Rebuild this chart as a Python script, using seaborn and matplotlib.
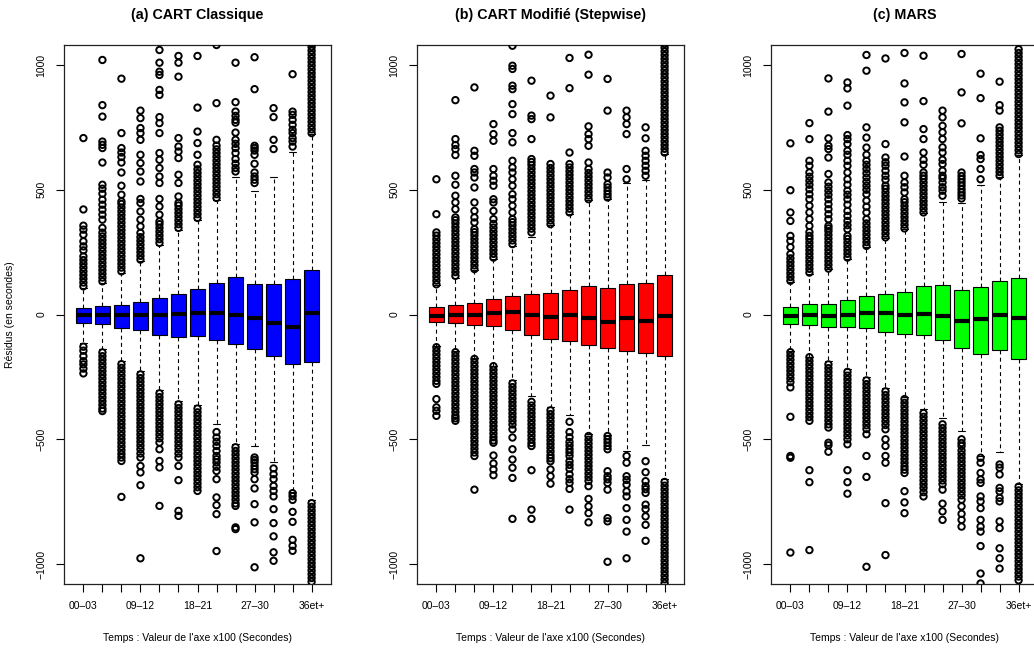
import pandas as pd
import numpy as np
import seaborn as sns
import matplotlib
matplotlib.use('Agg')
import matplotlib.pyplot as plt

# --- Categories (time bins, x100 seconds) ---
categories = ["00–03", "03–06", "06–09", "09–12", "12–15", "15–18", "18–21",
              "21–24", "24–27", "27–30", "30–33", "33–36", "36et+"]
yticks = [-1000, -500, 0, 500, 1000]
ytick_labels = ["−1000", "−500", "0", "500", "1000"]

# --- (a) CART Classique : box statistics ---
q1_a = [-33, -39, -53, -63, -84, -92, -87, -101, -117, -139, -165, -200, -189]
med_a = [-3, -2, -4, -3, -2, 2, 5, 6, -2, -14, -34, -51, 6]
q3_a = [27, 33, 40, 52, 65, 83, 103, 127, 152, 124, 123, 144, 180]
wlo_a = [-116, -140, -187, -227, -303, -347, -364, -437, -520, -527, -591, -711, -743]
whi_a = [107, 127, 167, 213, 280, 340, 380, 460, 553, 493, 553, 653, 724]
up_a = [
    [113, 128, 143, 158, 173, 188, 203, 218, 233, 257, 273, 293, 320, 340, 356, 421, 707],
    [133, 148, 163, 178, 193, 208, 223, 238, 253, 268, 283, 298, 313, 328, 347, 380, 400, 420,
     440, 460, 484, 504, 520, 609, 667, 680, 693, 793, 839, 1020],
    [173, 188, 203, 218, 233, 248, 263, 278, 293, 308, 323, 338, 353, 368, 383, 398, 413, 428,
     443, 453, 480, 516, 569, 609, 631, 649, 667, 727, 945],
    [220, 235, 250, 265, 280, 295, 310, 327, 353, 380, 413, 447, 463, 533, 573, 607, 640, 700,
     727, 747, 787, 817],
    [287, 302, 317, 332, 347, 362, 373, 400, 433, 463, 527, 553, 587, 620, 647, 727, 767, 791,
     880, 900, 960, 973, 1009, 1060],
    [347, 362, 377, 392, 407, 422, 437, 447, 473, 527, 560, 627, 653, 673, 707, 953, 1009, 1036],
    [387, 402, 417, 432, 447, 462, 477, 492, 507, 522, 537, 552, 567, 582, 600, 640, 687, 733,
     829, 1036],
    [467, 482, 497, 512, 527, 542, 557, 572, 587, 602, 617, 632, 647, 662, 677, 700, 847, 1080],
    [573, 587, 604, 623, 647, 667, 684, 700, 729, 769, 780, 796, 813, 851, 1009],
    [527, 540, 553, 569, 604, 640, 657, 667, 676, 903, 1031],
    [663, 700, 791, 827],
    [673, 693, 707, 727, 740, 760, 780, 800, 813, 963],
    [727, 742, 757, 772, 787, 802, 817, 832, 847, 862, 877, 892, 907, 922, 937, 952, 967, 982,
     997, 1012, 1027, 1042, 1057, 1072, 1087],
]
lo_a = [
    [-129, -145, -167, -187, -200, -217, -236],
    [-152, -167, -182, -197, -212, -227, -242, -257, -272, -287, -302, -317, -332, -347, -362,
     -377, -387],
    [-199, -214, -229, -244, -259, -274, -289, -304, -319, -334, -349, -364, -379, -394, -409,
     -424, -439, -454, -469, -484, -499, -514, -529, -544, -559, -573, -587, -731],
    [-240, -255, -270, -285, -300, -315, -330, -345, -360, -375, -390, -405, -420, -435, -450,
     -465, -480, -495, -510, -525, -540, -557, -573, -607, -633, -684, -977],
    [-316, -331, -346, -361, -376, -391, -406, -421, -436, -451, -466, -481, -496, -513, -540,
     -587, -613, -767],
    [-360, -375, -390, -405, -420, -435, -450, -465, -480, -495, -510, -525, -540, -557, -573,
     -607, -664, -787, -807],
    [-377, -392, -407, -422, -437, -452, -467, -482, -497, -512, -527, -542, -557, -572, -587,
     -602, -617, -632, -647, -662, -677, -692, -707],
    [-471, -493, -510, -527, -547, -567, -580, -593, -610, -627, -660, -733, -764, -800, -948],
    [-532, -547, -562, -577, -592, -607, -622, -637, -652, -667, -682, -697, -712, -727, -742,
     -757, -767, -853, -860],
    [-573, -583, -593, -607, -620, -633, -660, -697, -760, -833, -1013],
    [-617, -640, -660, -687, -707, -729, -780, -836, -889, -953, -987],
    [-716, -728, -743, -791, -831, -903, -927, -947],
    [-756, -771, -786, -801, -816, -831, -846, -861, -876, -891, -906, -921, -936, -951, -966,
     -981, -996, -1011, -1026, -1041, -1056, -1071],
]

# --- (b) CART Modifie (Stepwise) ---
q1_b = [-32, -36, -43, -47, -62, -81, -100, -106, -122, -133, -147, -155, -168]
med_b = [-7, -1, 0, 5, 9, 0, -9, -4, -15, -31, -16, -28, -5]
q3_b = [30, 38, 46, 61, 74, 81, 87, 100, 115, 105, 123, 128, 159]
wlo_b = [-127, -148, -174, -207, -264, -325, -372, -403, -480, -484, -547, -523, -659]
whi_b = [117, 147, 179, 222, 275, 309, 358, 402, 458, 462, 526, 537, 643]
up_b = [
    [121, 136, 151, 166, 181, 196, 211, 226, 241, 256, 271, 286, 301, 316, 329, 402, 542],
    [155, 170, 185, 200, 215, 230, 245, 260, 275, 290, 305, 320, 335, 350, 365, 378, 389, 422,
     449, 476, 520, 556, 639, 663, 679, 703, 859],
    [182, 197, 212, 227, 242, 257, 272, 287, 302, 317, 330, 342, 369, 389, 415, 449, 509, 549,
     569, 583, 636, 656, 910],
    [228, 243, 258, 273, 288, 303, 318, 333, 348, 363, 382, 415, 449, 462, 516, 536, 556, 583,
     696, 723, 763],
    [282, 297, 312, 327, 342, 357, 370, 382, 409, 436, 462, 482, 516, 542, 569, 589, 616, 690,
     727, 803, 843, 903, 917, 984, 997, 1077],
    [329, 344, 359, 374, 389, 404, 419, 434, 449, 464, 479, 494, 509, 524, 539, 554, 569, 584,
     599, 611, 623, 703, 783, 797, 937],
    [362, 377, 392, 407, 422, 437, 452, 467, 482, 497, 512, 527, 542, 557, 572, 587, 603, 790, 877],
    [409, 424, 439, 454, 469, 484, 499, 514, 529, 544, 559, 574, 589, 603, 649, 907, 1028],
    [462, 477, 492, 507, 522, 537, 552, 567, 583, 609, 676, 703, 723, 754, 961, 1041],
    [469, 482, 495, 509, 522, 549, 569, 817, 944],
    [542, 583, 723, 763, 790, 817],
    [556, 576, 596, 616, 636, 656, 706, 750],
    [649, 664, 679, 694, 709, 724, 739, 754, 769, 784, 799, 814, 829, 844, 859, 874, 889, 904,
     919, 934, 949, 964, 979, 994, 1009, 1024, 1039, 1054, 1069, 1084],
]
lo_b = [
    [-131, -146, -161, -176, -191, -206, -221, -236, -251, -266, -278, -339, -372, -386, -406],
    [-151, -166, -181, -196, -211, -226, -241, -256, -271, -286, -301, -316, -331, -346, -361,
     -376, -391, -406, -416, -426],
    [-178, -193, -208, -223, -238, -253, -268, -283, -298, -313, -328, -343, -358, -373, -388,
     -403, -418, -433, -448, -463, -478, -493, -508, -523, -538, -553, -567, -702],
    [-207, -222, -237, -252, -267, -282, -297, -312, -327, -342, -357, -372, -387, -402, -417,
     -432, -447, -462, -477, -492, -505, -514, -565, -597, -621, -644],
    [-276, -291, -306, -321, -336, -351, -366, -381, -396, -411, -426, -441, -460, -493, -540,
     -581, -614, -655, -819],
    [-350, -365, -380, -395, -410, -425, -440, -455, -470, -485, -500, -515, -527, -624, -782, -819],
    [-384, -399, -414, -429, -444, -459, -474, -489, -504, -519, -534, -549, -564, -576, -588,
     -621, -648, -678],
    [-430, -471, -492, -511, -525, -540, -553, -567, -588, -603, -618, -641, -660, -675, -699, -782],
    [-487, -502, -517, -532, -547, -562, -577, -592, -607, -622, -637, -652, -667, -688, -739,
     -769, -796, -833],
    [-487, -500, -513, -527, -540, -628, -648, -660, -675, -702, -816, -829, -991],
    [-567, -594, -648, -663, -682, -709, -729, -776, -823, -870, -977],
    [-588, -632, -668, -688, -700, -715, -762, -780, -809, -843, -907],
    [-671, -686, -701, -716, -731, -746, -761, -776, -791, -806, -821, -836, -851, -866, -881,
     -896, -911, -926, -941, -956, -971, -986, -1001, -1016, -1031, -1046, -1061, -1076],
]

# --- (c) MARS ---
q1_c = [-39, -42, -50, -51, -54, -70, -78, -84, -104, -136, -160, -144, -180]
med_c = [-8, -4, -5, -1, 7, 7, -1, 3, -7, -25, -20, -4, -13]
q3_c = [32, 42, 42, 60, 76, 81, 91, 113, 117, 97, 111, 135, 147]
wlo_c = [-148, -171, -188, -218, -252, -296, -329, -379, -414, -465, -567, -551, -678]
whi_c = [131, 164, 182, 222, 272, 306, 342, 406, 449, 445, 520, 553, 639]
up_c = [
    [135, 150, 165, 180, 195, 210, 225, 242, 270, 295, 315, 375, 409, 498, 686],
    [168, 183, 198, 213, 228, 243, 258, 273, 288, 303, 315, 330, 355, 382, 409, 436, 462, 482,
     502, 520, 536, 552, 569, 596, 616, 703, 767],
    [184, 199, 214, 229, 244, 259, 274, 289, 304, 319, 334, 345, 355, 382, 402, 422, 442, 462,
     480, 496, 512, 529, 563, 629, 663, 676, 706, 813, 946],
    [228, 243, 258, 273, 288, 303, 315, 342, 358, 375, 395, 415, 440, 462, 480, 496, 520, 542,
     569, 596, 616, 640, 656, 683, 703, 719, 837, 906, 930],
    [275, 290, 305, 320, 335, 350, 365, 382, 409, 432, 456, 482, 500, 516, 532, 549, 566, 583,
     600, 616, 640, 669, 709, 750, 977, 1040],
    [309, 324, 339, 354, 369, 384, 399, 414, 429, 444, 459, 474, 489, 504, 516, 540, 556, 576,
     596, 610, 629, 683, 1026],
    [345, 360, 375, 390, 405, 420, 435, 450, 462, 489, 510, 529, 556, 633, 770, 850, 926, 1048],
    [409, 424, 439, 454, 469, 484, 499, 514, 529, 544, 556, 569, 600, 620, 649, 703, 743, 855, 1037],
    [476, 496, 510, 529, 546, 556, 576, 603, 620, 649, 670, 703, 730, 756, 790, 817],
    [465, 477, 489, 502, 516, 529, 542, 555, 569, 766, 890, 1044],
    [542, 583, 623, 639, 706, 867, 965],
    [556, 571, 586, 601, 616, 631, 646, 661, 676, 691, 706, 721, 736, 750, 817, 839, 933],
    [643, 658, 673, 688, 703, 718, 733, 748, 763, 778, 793, 808, 823, 838, 853, 868, 883, 898,
     913, 928, 943, 958, 973, 988, 1003, 1018, 1033, 1048, 1063],
]
lo_c = [
    [-151, -166, -181, -196, -211, -226, -241, -256, -271, -292, -410, -567, -574, -954],
    [-171, -186, -201, -216, -231, -246, -261, -276, -291, -306, -321, -336, -351, -366, -381,
     -396, -411, -426, -624, -672, -944],
    [-200, -215, -230, -245, -260, -275, -290, -305, -320, -335, -350, -365, -380, -395, -410,
     -425, -440, -453, -514, -524, -550],
    [-230, -245, -260, -275, -290, -305, -320, -335, -350, -365, -380, -395, -410, -425, -440,
     -455, -470, -485, -500, -520, -624, -672, -718],
    [-264, -279, -294, -309, -324, -339, -354, -369, -384, -399, -414, -429, -444, -459, -480,
     -567, -651, -1011],
    [-308, -323, -338, -353, -368, -383, -398, -413, -428, -443, -460, -500, -527, -567, -594,
     -756, -964],
    [-339, -354, -369, -384, -399, -414, -429, -444, -459, -474, -489, -504, -519, -534, -549,
     -564, -579, -594, -609, -622, -635, -708, -753, -796],
    [-395, -410, -425, -440, -455, -470, -485, -500, -515, -530, -545, -560, -575, -590, -605,
     -620, -635, -650, -665, -680, -695, -712, -729],
    [-440, -455, -470, -485, -500, -515, -530, -545, -560, -575, -590, -605, -620, -635, -650,
     -665, -680, -702, -758, -789, -823],
    [-500, -515, -527, -545, -560, -575, -590, -605, -620, -635, -650, -665, -680, -695, -710,
     -725, -742, -769, -799, -823, -850],
    [-574, -594, -635, -661, -675, -729, -749, -776, -823, -850, -870, -928, -1038, -1078],
    [-601, -614, -641, -695, -709, -735, -749, -829, -856, -937, -977, -1018],
    [-690, -705, -720, -735, -750, -765, -780, -795, -810, -825, -840, -855, -870, -885, -900,
     -915, -930, -945, -960, -975, -990, -1005, -1020, -1035, -1050, -1065],
]

titles = ["(a) CART Classique", "(b) CART Modifié (Stepwise)", "(c) MARS"]
colors = ["#0000FF", "#FF0000", "#00FF00"]

sns.set_style("white")
plt.rcParams['font.family'] = ['Liberation Sans', 'DejaVu Sans']
plt.rcParams['text.color'] = 'black'

W, H = 1034, 650
fig = plt.figure(figsize=(W / 100, H / 100), dpi=100)

panels = [
    (q1_a, med_a, q3_a, wlo_a, whi_a, up_a, lo_a, 64),
    (q1_b, med_b, q3_b, wlo_b, whi_b, up_b, lo_b, 417),
    (q1_c, med_c, q3_c, wlo_c, whi_c, up_c, lo_c, 771),
]
ax_w, ax_top, ax_bot = 267, 45, 584

for i, (q1, med, q3, wlo, whi, up, lo, left) in enumerate(panels):
    ax = fig.add_axes([left / W, (H - ax_bot) / H, ax_w / W, (ax_bot - ax_top) / H])

    # five values per category give exactly the quartiles / whisker ends
    stats = np.column_stack([wlo, q1, med, q3, whi]).ravel()
    box_df = pd.DataFrame({"temps": np.repeat(categories, 5), "residu": stats})
    sns.boxplot(data=box_df, x="temps", y="residu", order=categories, whis=(0, 100),
                width=0.8, color=colors[i], saturation=1, showfliers=False,
                linecolor="black", linewidth=0.8,
                medianprops=dict(linewidth=3, color="black"),
                whiskerprops=dict(linestyle=(0, (3.5, 3))),
                ax=ax)

    rows = []
    for cat, u, l in zip(categories, up, lo):
        rows += [(cat, v) for v in u + l]
    out_df = pd.DataFrame(rows, columns=["temps", "residu"])
    n = len(ax.collections)
    sns.stripplot(data=out_df, x="temps", y="residu", order=categories, jitter=False,
                  color="black", size=4.6, linewidth=1.4, edgecolor="black", ax=ax)
    for coll in ax.collections[n:]:
        coll.set_facecolor("none")

    ax.set_xlim(-1.02, 13.02)
    ax.set_ylim(-1080, 1080)
    ax.set_xticks(range(len(categories)))
    ax.set_xticklabels([c if k % 3 == 0 else "" for k, c in enumerate(categories)], fontsize=7.5)
    ax.set_yticks(yticks)
    ax.set_yticklabels(ytick_labels, fontsize=7.5, rotation=90, va="center")
    ax.tick_params(axis="both", length=5.5, width=0.8, pad=7, color="black",
                   labelcolor="black", bottom=True, left=True)
    ax.set_xlabel("")
    ax.set_ylabel("")
    for s in ax.spines.values():
        s.set_visible(True)
        s.set_color("#222222")
        s.set_linewidth(0.9)

    cx = (left + ax_w / 2) / W
    fig.text(cx, 1 - 15 / H, titles[i], ha="center", va="center",
             fontsize=10.3, fontweight="bold", color="black")
    fig.text(cx, 1 - 638 / H, "Temps : Valeur de l'axe x100 (Secondes)",
             ha="center", va="center", fontsize=7.5, color="black")

fig.text(10 / W, 1 - 315 / H, "Résidus (en secondes)", rotation=90,
         ha="center", va="center", fontsize=7.5, color="black")

plt.savefig("out.png", dpi=100)
plt.close()
